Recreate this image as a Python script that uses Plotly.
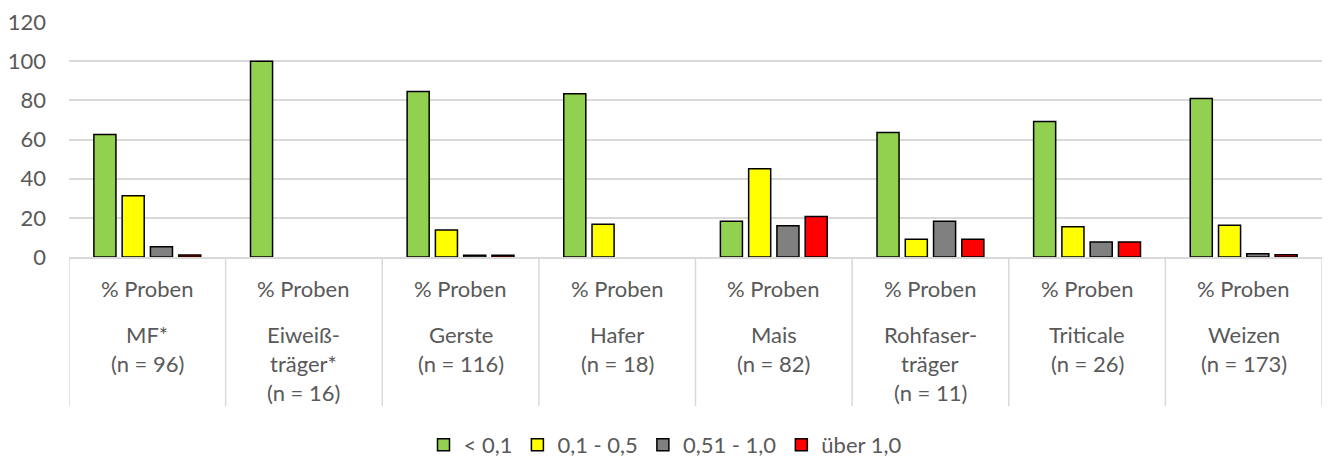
import plotly.graph_objects as go

# Feed categories and sample counts
categories = ["MF*", "Eiweiß-<br>träger*", "Gerste", "Hafer", "Mais",
              "Rohfaser-<br>träger", "Triticale", "Weizen"]
sample_counts = [96, 16, 116, 18, 82, 11, 26, 173]
row_label = "% Proben"

# Share of samples (%) per concentration class
series_names = ["< 0,1", "0,1 - 0,5", "0,51 - 1,0", "über 1,0"]
below_01 = [62.5, 100.0, 84.5, 83.3, 18.3, 63.6, 69.2, 80.9]
from_01_to_05 = [31.3, 0, 13.8, 16.7, 45.1, 9.1, 15.4, 16.2]
from_051_to_10 = [5.2, 0, 0.9, 0, 15.9, 18.2, 7.7, 1.7]
above_10 = [1.0, 0, 0.9, 0, 20.7, 9.1, 7.7, 1.2]
series_values = [below_01, from_01_to_05, from_051_to_10, above_10]
series_colors = ["#92D050", "#FFFF00", "#808080", "#FF0000"]

y_ticks = [0, 20, 40, 60, 80, 100, 120]

FONT = "Lato"
TEXT_COLOR = "#595959"
GRID_COLOR = "#D9D9D9"

W, H = 1330, 457
M_L, M_R, M_T, M_B = 67, 8, 19, 200
plot_h = H - M_T - M_B


def paper_y(py):
    """Convert a pixel row into paper coordinates of the plot area."""
    return (H - M_B - py) / plot_h


x = list(range(len(categories)))

fig = go.Figure()
for name, vals, color in zip(series_names, series_values, series_colors):
    # empty classes (0 %) get no bar at all
    shown = [v if v > 0 else None for v in vals]
    fig.add_trace(go.Bar(
        x=x, y=shown, name=name,
        marker=dict(color=color, line=dict(color="#000000", width=1.5)),
    ))

annotations = []
for i, (cat, n) in enumerate(zip(categories, sample_counts)):
    annotations.append(dict(
        x=i, xref="x", y=paper_y(289), yref="paper", text=row_label,
        showarrow=False, xanchor="center", yanchor="middle",
        font=dict(family=FONT, size=22, color=TEXT_COLOR)))
    lines = cat.split("<br>") + [f"(n = {n})"]
    for k, line in enumerate(lines):
        annotations.append(dict(
            x=i, xref="x", y=paper_y(335 + 29.5 * k), yref="paper", text=line,
            showarrow=False, xanchor="center", yanchor="middle",
            font=dict(family=FONT, size=22, color=TEXT_COLOR)))

# Vertical separators between the category label cells
shapes = []
for b in range(len(categories) + 1):
    shapes.append(dict(
        type="line", xref="x", yref="paper", x0=b - 0.5, x1=b - 0.5,
        y0=0, y1=paper_y(408), line=dict(color=GRID_COLOR, width=1.5)))

fig.update_layout(
    width=W, height=H,
    margin=dict(l=M_L, r=M_R, t=M_T, b=M_B, pad=0),
    paper_bgcolor="white", plot_bgcolor="white",
    barmode="group", bargap=0.278, bargroupgap=0.22,
    font=dict(family=FONT, size=22, color=TEXT_COLOR),
    xaxis=dict(range=[-0.5, len(categories) - 0.5], showticklabels=False,
               showgrid=False, zeroline=False, showline=True,
               linecolor=GRID_COLOR, linewidth=1.5, ticks=""),
    yaxis=dict(range=[0, 120], tickvals=y_ticks, showgrid=True,
               gridcolor=GRID_COLOR, gridwidth=1.5, zeroline=False,
               showline=False, ticks="", ticklabelstandoff=22,
               tickfont=dict(family=FONT, size=22, color=TEXT_COLOR)),
    legend=dict(orientation="h", xref="container", yref="container",
                x=0.5, xanchor="center", y=1 - 445 / H, yanchor="middle",
                font=dict(family=FONT, size=22, color=TEXT_COLOR),
                itemwidth=30, traceorder="normal"),
    annotations=annotations, shapes=shapes,
)

fig.write_html("out.html")
